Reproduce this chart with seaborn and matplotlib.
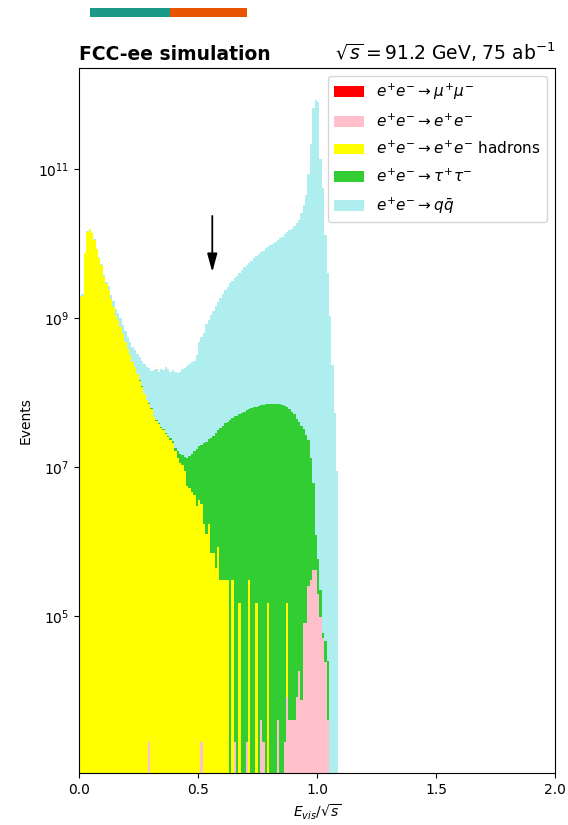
import numpy as np
import pandas as pd
import matplotlib
matplotlib.use("Agg")
import matplotlib.pyplot as plt
from matplotlib.patches import Patch, Rectangle
from matplotlib.ticker import FixedLocator, NullLocator
import seaborn as sns

# Histogram binning in E_vis / sqrt(s): 0.01 wide bins from 0 to 1.09
bin_edges = [round(0.01 * i, 2) for i in range(110)]

# Expected events per bin for each process (75 ab^-1 at the Z pole)
mumu = [0.0] * 109

ee = [
    0, 0, 0, 0, 0, 0, 0, 0, 0, 0,
    0, 0, 0, 0, 0, 0, 0, 0, 0, 0,
    0, 0, 0, 0, 0, 0, 0, 0, 0, 2040,
    0, 0, 0, 0, 0, 0, 0, 0, 0, 0,
    0, 0, 0, 0, 0, 0, 0, 0, 0, 0,
    0, 2040, 0, 0, 0, 0, 0, 0, 0, 0,
    0, 0, 0, 0, 0, 2040, 0, 0, 0, 0,
    2040, 0, 0, 0, 0, 0, 4080, 2040, 0, 0,
    0, 0, 0, 4080, 0, 0, 2040, 8160, 4080, 4080,
    4080, 8160, 18400, 7410, 79400, 79400, 250000, 302000, 417000, 417000,
    200000, 97700, 50100, 24500, 4080, 0, 0, 0, 0,
]

ee_hadrons = [
    1.91e9, 2.00e9, 7.41e9, 1.45e10, 1.55e10, 1.38e10, 1.12e10, 8.32e9, 6.46e9, 5.13e9,
    3.55e9, 2.82e9, 2.40e9, 1.78e9, 1.41e9, 1.07e9, 9.33e8, 7.59e8, 6.03e8, 4.79e8,
    3.80e8, 3.16e8, 2.57e8, 2.19e8, 1.78e8, 1.45e8, 1.20e8, 9.55e7, 7.94e7, 7.08e7,
    6.03e7, 4.68e7, 4.17e7, 3.80e7, 3.39e7, 3.16e7, 2.75e7, 2.51e7, 2.29e7, 2.09e7,
    1.62e7, 1.32e7, 1.15e7, 1.05e7, 8.91e6, 5.62e6, 5.25e6, 4.68e6, 4.17e6, 3.02e6,
    3.63e6, 3.16e6, 1.74e6, 1.26e6, 1.74e6, 6.92e5, 6.92e5, 4.47e5, 8.51e5, 3.0e5,
    3.0e5, 3.0e5, 3.0e5, 0, 3.0e5, 0, 0, 1.5e5, 0, 0,
    0, 3.0e5, 0, 0, 1.5e5, 0, 0, 0, 0, 1.5e5,
    0, 0, 0, 0, 0, 0, 0, 1.4e5, 0, 0,
    0, 0, 0, 0, 0, 0, 0, 0, 0, 0,
    0, 0, 0, 0, 0, 0, 0, 0, 0,
]

tautau = [
    1.5e4, 2.0e4, 2.5e4, 3.0e4, 3.5e4, 4.0e4, 5.0e4, 6.0e4, 7.0e4, 8.0e4,
    9.0e4, 1.0e5, 1.2e5, 1.4e5, 1.6e5, 1.8e5, 2.0e5, 2.3e5, 2.6e5, 3.0e5,
    3.4e5, 3.8e5, 4.2e5, 4.6e5, 5.0e5, 5.5e5, 6.0e5, 6.5e5, 7.0e5, 7.5e5,
    8.0e5, 8.6e5, 9.2e5, 9.8e5, 1.05e6, 1.1e6, 1.2e6, 1.3e6, 1.4e6, 1.5e6,
    2.0e6, 3.0e6, 3.5e6, 4.0e6, 4.8e6, 7.6e6, 8.9e6, 1.01e7, 1.21e7, 1.44e7,
    1.54e7, 1.68e7, 1.92e7, 2.06e7, 2.17e7, 2.39e7, 2.50e7, 2.84e7, 3.01e7, 3.36e7,
    3.52e7, 3.86e7, 4.04e7, 4.27e7, 4.54e7, 4.79e7, 4.90e7, 5.12e7, 5.37e7, 5.50e7,
    5.75e7, 6.00e7, 6.17e7, 6.31e7, 6.44e7, 6.61e7, 6.76e7, 6.76e7, 6.92e7, 6.90e7,
    7.08e7, 7.08e7, 7.08e7, 6.92e7, 6.92e7, 6.76e7, 6.61e7, 6.29e7, 6.03e7, 5.50e7,
    5.13e7, 4.47e7, 4.07e7, 3.55e7, 3.20e7, 2.70e7, 2.26e7, 1.29e7, 5.61e6, 8.13e5,
    3.75e5, 1.26e5, 1.00e4, 2.12e4, 2.12e4, 0, 0, 0, 0,
]

qqbar = [
    6.0e7, 8.0e7, 1.0e8, 1.2e8, 1.4e8, 1.6e8, 1.8e8, 2.0e8, 2.2e8, 2.4e8,
    2.6e8, 2.7e8, 2.8e8, 2.8e8, 2.8e8, 2.7e8, 2.5e8, 2.3e8, 2.1e8, 1.9e8,
    1.7e8, 1.6e8, 1.55e8, 1.5e8, 1.5e8, 1.5e8, 1.45e8, 1.45e8, 1.4e8, 1.4e8,
    1.35e8, 1.52e8, 1.62e8, 1.47e8, 1.74e8, 1.67e8, 1.90e8, 1.78e8, 1.62e8, 1.77e8,
    1.73e8, 1.66e8, 1.75e8, 1.90e8, 2.00e8, 2.16e8, 2.31e8, 2.42e8, 2.47e8, 2.99e8,
    4.60e8, 5.42e8, 6.10e8, 8.10e8, 9.10e8, 1.07e9, 1.23e9, 1.42e9, 1.59e9, 1.83e9,
    2.05e9, 2.31e9, 2.59e9, 2.91e9, 3.12e9, 3.42e9, 3.67e9, 3.93e9, 4.31e9, 4.73e9,
    5.07e9, 5.44e9, 5.83e9, 6.25e9, 6.70e9, 7.18e9, 7.52e9, 7.88e9, 8.64e9, 9.05e9,
    9.48e9, 9.93e9, 1.04e10, 1.115e10, 1.168e10, 1.223e10, 1.342e10, 1.407e10, 1.508e10, 1.580e10,
    1.693e10, 1.858e10, 2.038e10, 2.567e10, 3.308e10, 4.464e10, 8.51e10, 2.138e11, 6.61e11, 8.51e11,
    7.94e11, 1.38e11, 5.50e10, 1.29e10, 3.98e9, 1.05e9, 2.34e8, 5.25e7, 8.71e6,
]

process_labels = {
    "mumu": r"$e^{+}e^{-} \rightarrow \mu^{+}\mu^{-}$",
    "ee": r"$e^{+}e^{-} \rightarrow e^{+}e^{-}$",
    "eehad": r"$e^{+}e^{-} \rightarrow e^{+}e^{-}$ hadrons",
    "tautau": r"$e^{+}e^{-} \rightarrow \tau^{+}\tau^{-}$",
    "qq": r"$e^{+}e^{-} \rightarrow q\bar{q}$",
}
process_colors = {
    "mumu": "red",
    "ee": "pink",
    "eehad": "yellow",
    "tautau": "limegreen",
    "qq": "paleturquoise",
}
legend_order = ["mumu", "ee", "eehad", "tautau", "qq"]

edges = np.asarray(bin_edges)
centers = (edges[:-1] + edges[1:]) / 2
frames = []
for key, counts in [("mumu", mumu), ("ee", ee), ("eehad", ee_hadrons),
                    ("tautau", tautau), ("qq", qqbar)]:
    frames.append(pd.DataFrame({"E": centers, "w": np.asarray(counts, float),
                                "process": key}))
df = pd.concat(frames, ignore_index=True)

fig = plt.figure(figsize=(5.68, 8.25), dpi=100)
ax = fig.add_axes([79 / 568, 1 - 773 / 825, (555 - 79) / 568, (773 - 68) / 825])

# seaborn stacks the first hue level on top, so list the bottom layer last
sns.histplot(data=df, x="E", weights="w", hue="process",
             hue_order=legend_order[::-1], bins=bin_edges,
             multiple="stack", element="bars", palette=process_colors,
             alpha=1, linewidth=0, antialiased=False, legend=False, ax=ax)

ax.set_yscale("log")
ax.set_xlim(0, 2)
ax.set_ylim(10 ** 2.893, 10 ** 12.356)
ax.yaxis.set_major_locator(FixedLocator([1e5, 1e7, 1e9, 1e11]))
ax.yaxis.set_minor_locator(NullLocator())
ax.set_xticks([0.0, 0.5, 1.0, 1.5, 2.0])
ax.set_xlabel(r"$E_{vis}/\sqrt{s}$")
ax.set_ylabel("Events")

ax.set_title("FCC-ee simulation", loc="left", fontweight="bold", fontsize=13.5)
ax.set_title(r"$\sqrt{s} = 91.2$ GeV, 75 ab$^{-1}$", loc="right", fontsize=13.5)

ax.annotate("", xy=(0.56, 10 ** 9.617), xytext=(0.56, 10 ** 10.37),
            arrowprops=dict(arrowstyle="-|>,head_length=1.1,head_width=0.3",
                            mutation_scale=10, color="black", lw=1.3,
                            shrinkA=0, shrinkB=0))

handles = [Patch(facecolor=process_colors[k], edgecolor="none",
                 label=process_labels[k]) for k in legend_order]
ax.legend(handles=handles, loc="upper right", fontsize=11, labelspacing=0.68)

# two-tone colour strip above the plot
fig.add_artist(Rectangle((90 / 568, 1 - 17 / 825), 80 / 568, 9 / 825,
                         transform=fig.transFigure, facecolor="#1b9988",
                         edgecolor="none"))
fig.add_artist(Rectangle((170 / 568, 1 - 17 / 825), 77 / 568, 9 / 825,
                         transform=fig.transFigure, facecolor="#e85502",
                         edgecolor="none"))

fig.savefig("out.png", dpi=100)
